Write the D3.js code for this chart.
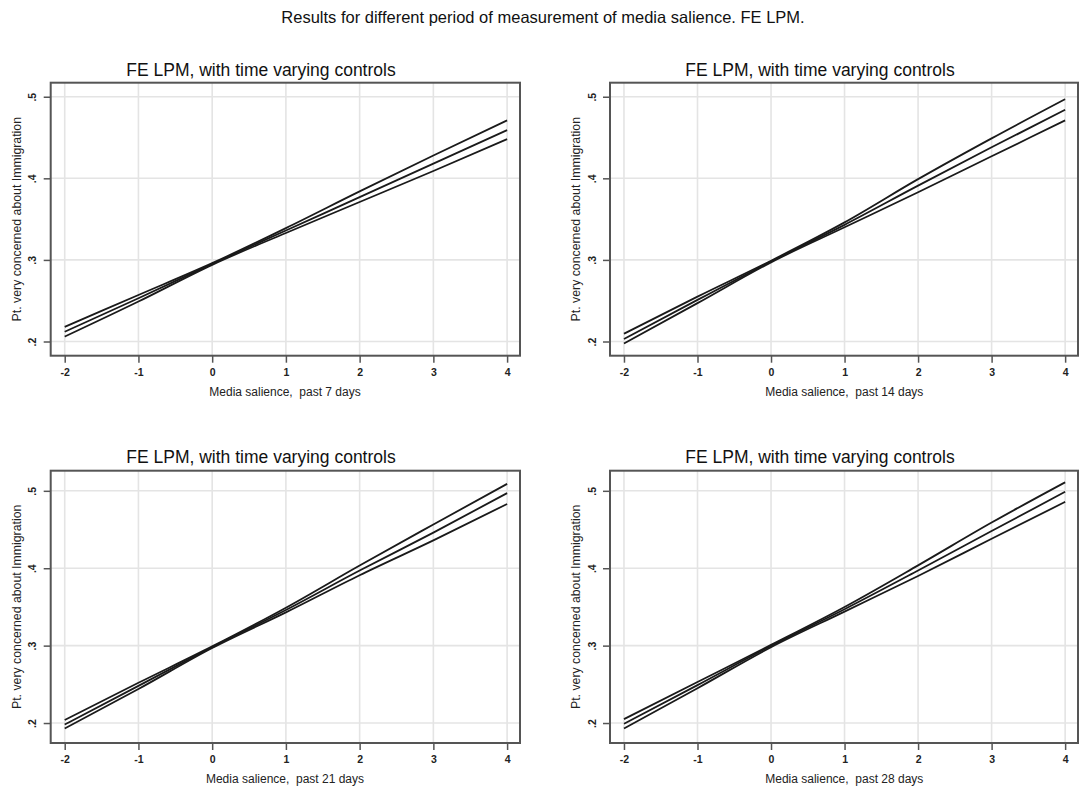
<!DOCTYPE html>
<html>
<head>
<meta charset="utf-8">
<script src="https://cdn.jsdelivr.net/npm/d3@7"></script>
<style>
  html, body { margin: 0; padding: 0; background: #ffffff; }
  svg { display: block; font-family: "Liberation Sans", Arial, sans-serif; }
  text { white-space: pre; }
</style>
</head>
<body>
<svg id="chart" width="1080" height="788"></svg>
<script>
// ---------- data ----------
const mainTitle = "Results for different period of measurement of media salience. FE LPM.";
const panelTitle = "FE LPM, with time varying controls";
const yLabel = "Pt. very concerned about Immigration";
const xLabels = ["Media salience,  past 7 days", "Media salience,  past 14 days",
                 "Media salience,  past 21 days", "Media salience,  past 28 days"];

const xValues = [-2, -1, 0, 1, 2, 3, 4];
const xTicks = [-2, -1, 0, 1, 2, 3, 4];
const yTicks = [0.2, 0.3, 0.4, 0.5];
const yTickLabels = [".2", ".3", ".4", ".5"];

// 7 days
const mid7   = [0.212, 0.253, 0.295, 0.336, 0.377, 0.418, 0.459];
const upper7 = [0.218, 0.257, 0.296, 0.339, 0.384, 0.428, 0.471];
const lower7 = [0.206, 0.249, 0.294, 0.333, 0.371, 0.409, 0.448];
// 14 days
const mid14   = [0.203, 0.251, 0.298, 0.343, 0.391, 0.438, 0.484];
const upper14 = [0.2095, 0.255, 0.299, 0.346, 0.399, 0.449, 0.497];
const lower14 = [0.1975, 0.247, 0.297, 0.340, 0.383, 0.427, 0.471];
// 21 days
const mid21   = [0.198, 0.248, 0.298, 0.346, 0.397, 0.446, 0.497];
const upper21 = [0.204, 0.252, 0.299, 0.349, 0.4035, 0.4565, 0.509];
const lower21 = [0.193, 0.244, 0.297, 0.343, 0.391, 0.436, 0.483];
// 28 days
const mid28   = [0.199, 0.249, 0.2997, 0.347, 0.397, 0.448, 0.4987];
const upper28 = [0.205, 0.253, 0.301, 0.350, 0.4037, 0.459, 0.511];
const lower28 = [0.193, 0.245, 0.298, 0.344, 0.390, 0.438, 0.4857];

const xDomain = [-2.19, 4.175];
const yDomainTop = [0.1826, 0.5172];
const yDomainBottom = [0.1742, 0.526];

// ---------- layout ----------
const panels = [
  { series: [upper7, mid7, lower7],    xl: xLabels[0], box: {l: 50.7, r: 520, t: 82.7, b: 355.7}, yDom: yDomainTop,    titleX: 261, titleY: 76 },
  { series: [upper14, mid14, lower14], xl: xLabels[1], box: {l: 610,  r: 1078, t: 82.7, b: 355.7}, yDom: yDomainTop,    titleX: 820, titleY: 76 },
  { series: [upper21, mid21, lower21], xl: xLabels[2], box: {l: 50.7, r: 520, t: 470.7, b: 743},  yDom: yDomainBottom, titleX: 261, titleY: 463 },
  { series: [upper28, mid28, lower28], xl: xLabels[3], box: {l: 610,  r: 1078, t: 470.7, b: 743},  yDom: yDomainBottom, titleX: 820, titleY: 463 }
];

const svg = d3.select("#chart");

svg.append("text")
  .attr("x", 543).attr("y", 23)
  .attr("text-anchor", "middle")
  .attr("font-size", 16.5)
  .attr("fill", "#111")
  .text(mainTitle);

panels.forEach(p => {
  const b = p.box;
  const x = d3.scaleLinear().domain(xDomain).range([b.l, b.r]);
  const y = d3.scaleLinear().domain(p.yDom).range([b.b, b.t]);
  const g = svg.append("g");

  // grid
  g.append("g").selectAll("line.vg").data(xTicks).join("line")
    .attr("x1", d => x(d)).attr("x2", d => x(d))
    .attr("y1", b.t).attr("y2", b.b)
    .attr("stroke", "#e4e4e4").attr("stroke-width", 1.6);
  g.append("g").selectAll("line.hg").data(yTicks).join("line")
    .attr("y1", d => y(d)).attr("y2", d => y(d))
    .attr("x1", b.l).attr("x2", b.r)
    .attr("stroke", "#e4e4e4").attr("stroke-width", 1.6);

  // lines
  const line = d3.line()
    .x((d, i) => x(xValues[i]))
    .y(d => y(d))
    .curve(d3.curveMonotoneX);
  p.series.forEach(s => {
    g.append("path").datum(s)
      .attr("d", line)
      .attr("fill", "none")
      .attr("stroke", "#1a1a1a")
      .attr("stroke-width", 1.8);
  });

  // axes
  const xAxis = d3.axisBottom(x).tickValues(xTicks).tickSize(7).tickPadding(6).tickFormat(d3.format("d"));
  const gx = g.append("g").attr("transform", `translate(0,${b.b})`).call(xAxis);
  gx.select(".domain").remove();
  gx.selectAll(".tick line").attr("stroke", "#555").attr("stroke-width", 1.5);
  gx.selectAll(".tick text").attr("font-size", 10.5).attr("font-weight", "bold").attr("fill", "#222")
    .attr("font-family", "'Liberation Sans', Arial, sans-serif")
    .text(d => d < 0 ? "-" + Math.abs(d) : d);

  const yAxis = d3.axisLeft(y).tickValues(yTicks).tickSize(7).tickPadding(0)
    .tickFormat((d, i) => yTickLabels[i]);
  const gy = g.append("g").attr("transform", `translate(${b.l},0)`).call(yAxis);
  gy.select(".domain").remove();
  gy.selectAll(".tick line").attr("stroke", "#555").attr("stroke-width", 1.5);
  gy.selectAll(".tick text")
    .attr("font-size", 10.5).attr("font-weight", "bold").attr("fill", "#222")
    .attr("font-family", "'Liberation Sans', Arial, sans-serif")
    .attr("text-anchor", "middle")
    .attr("x", null).attr("dy", null)
    .attr("transform", "translate(-18,0) rotate(-90)")
    .attr("dy", "0.35em");

  // frame
  g.append("rect")
    .attr("x", b.l).attr("y", b.t)
    .attr("width", b.r - b.l).attr("height", b.b - b.t)
    .attr("fill", "none").attr("stroke", "#555").attr("stroke-width", 2);

  // titles
  svg.append("text")
    .attr("x", p.titleX).attr("y", p.titleY)
    .attr("text-anchor", "middle")
    .attr("font-size", 17.5)
    .attr("fill", "#111")
    .text(panelTitle);

  svg.append("text")
    .attr("x", 285 + (b.l - 50.7)).attr("y", b.b + 40)
    .attr("text-anchor", "middle")
    .attr("font-size", 12)
    .attr("fill", "#222")
    .text(p.xl);

  svg.append("text")
    .attr("transform", `translate(${b.l - 30},${(b.t + b.b) / 2}) rotate(-90)`)
    .attr("text-anchor", "middle")
    .attr("font-size", 12.3)
    .attr("fill", "#222")
    .text(yLabel);
});
</script>
</body>
</html>
